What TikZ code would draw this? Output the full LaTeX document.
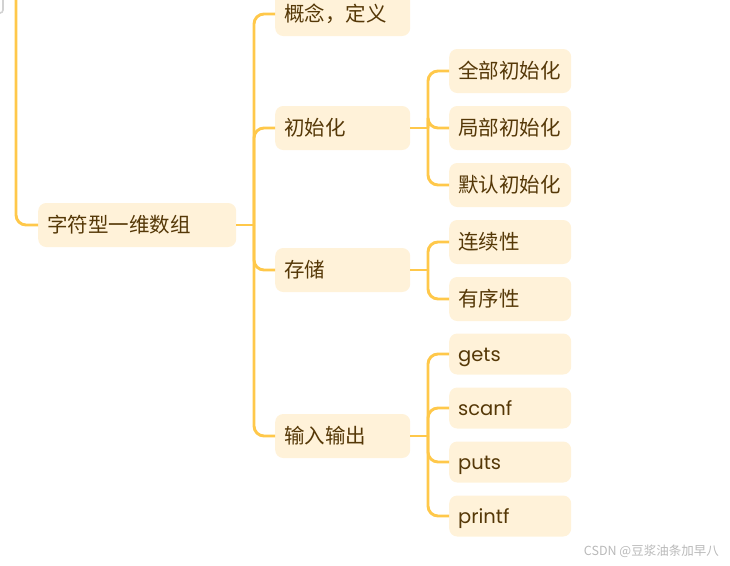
\documentclass[tikz,border=0pt]{standalone}
\usepackage{fontspec}
\setmainfont{Poppins}
\newfontfamily\cjk{Noto Sans CJK SC}
\definecolor{linec}{HTML}{FFC84A}
\definecolor{boxc}{HTML}{FFF2D9}
\definecolor{txtc}{HTML}{553807}
\newcommand{\lowtxt}[1]{\raisebox{-2.5pt}[0.75em][0.25em]{#1}}
\begin{document}
\begin{tikzpicture}[x=1pt,y=-1pt,
  mbox/.style={fill=boxc,rounded corners=8pt,anchor=west,inner xsep=9pt,inner ysep=0pt,
    minimum height=44pt,text width=#1,align=left,text=txtc,font=\fontsize{20.5}{23}\selectfont},
  mbox/.default=117pt,
  lbox/.style={mbox=104pt,minimum height=41pt,font=\fontsize{19.5}{22}\selectfont},
  conn/.style={draw=linec,line width=2.9pt,rounded corners=10pt}]
\useasboundingbox (0,0) rectangle (730,565);
\clip (0,0) rectangle (730,565);
% gray fragment at top-left
\draw[gray!35,line width=1.6pt,rounded corners=3pt] (3,-6) -- (3,13) -- (-6,13);
% nodes
\node[mbox=180pt] (root) at (38,225) {\cjk 字符型一维数组};
\node[mbox] (a) at (275,14) {\cjk 概念，定义};
\node[mbox] (b) at (275,128) {\cjk 初始化};
\node[mbox] (c) at (275,270) {\cjk 存储};
\node[mbox] (d) at (275,436) {\cjk 输入输出};
\node[mbox=104pt] (b1) at (449,71) {\cjk 全部初始化};
\node[mbox=104pt] (b2) at (449,128) {\cjk 局部初始化};
\node[mbox=104pt] (b3) at (449,185) {\cjk 默认初始化};
\node[mbox=104pt] (c1) at (449,242) {\cjk 连续性};
\node[mbox=104pt] (c2) at (449,299) {\cjk 有序性};
\node[lbox] (d1) at (449,354) {\lowtxt{gets}};
\node[lbox] (d2) at (449,408) {\lowtxt{scanf}};
\node[lbox] (d3) at (449,462) {\lowtxt{puts}};
\node[lbox] (d4) at (449,516) {\lowtxt{printf}};
\node[anchor=east,text=gray!55,inner sep=0pt,font=\fontsize{12.5}{14}\selectfont\cjk] (wm) at (719,551) {CSDN @豆浆油条加早八};
% connectors
\coordinate (top) at (16,-20);
\coordinate (ja) at (254,225);
\coordinate (jb) at (428,128);
\coordinate (jc) at (428,270);
\coordinate (jd) at (428,436);
\draw[conn] (top) |- (root.west);
\draw[conn] (root.east) -- (ja);
\foreach \n in {a,b,c,d} \draw[conn] (ja) |- (\n.west);
\draw[conn] (b.east) -- (jb);
\foreach \n in {b1,b2,b3} \draw[conn] (jb) |- (\n.west);
\draw[conn] (c.east) -- (jc);
\foreach \n in {c1,c2} \draw[conn] (jc) |- (\n.west);
\draw[conn] (d.east) -- (jd);
\foreach \n in {d1,d2,d3,d4} \draw[conn] (jd) |- (\n.west);
\end{tikzpicture}
\end{document}
